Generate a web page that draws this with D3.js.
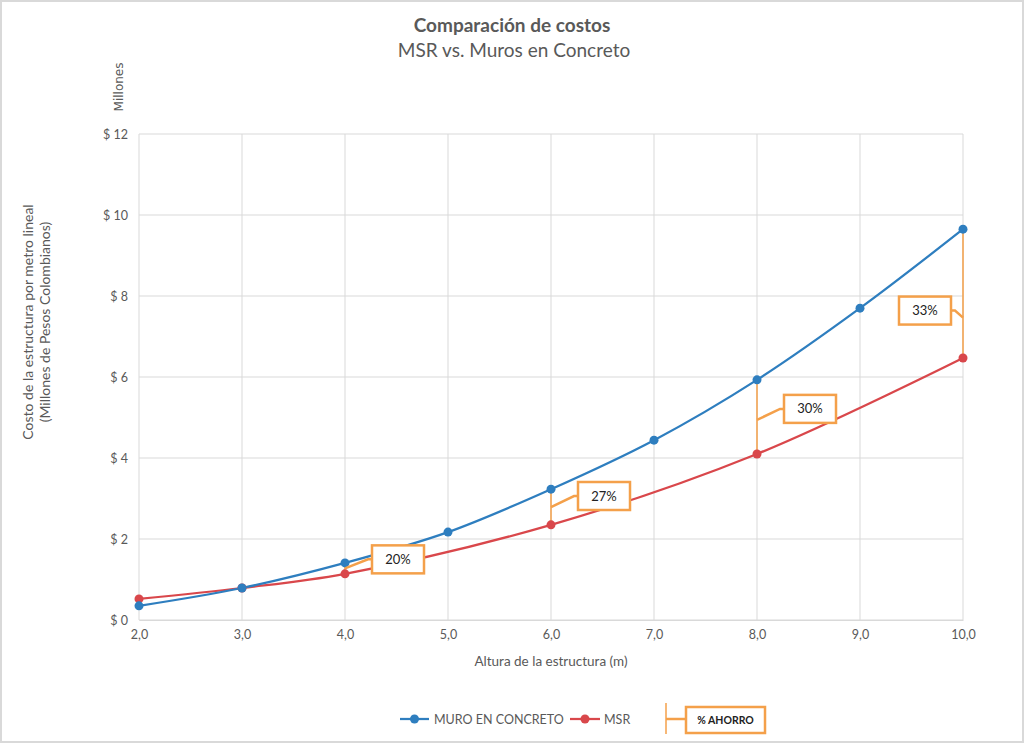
<!DOCTYPE html>
<html><head><meta charset="utf-8">
<script src="https://cdn.jsdelivr.net/npm/d3@7"></script>
<style>body{margin:0;background:#fff}svg{display:block}text{font-family:Lato,"Open Sans",sans-serif}</style>
</head><body>
<svg id="c" width="1024" height="743"></svg>
<script>
const alturas = [2,3,4,5,6,7,8,9,10];
const muroConcreto = [0.35,0.79,1.41,2.17,3.23,4.44,5.93,7.70,9.65];
const msrAlturas = [2,3,4,6,8,10];
const msr = [0.52,0.79,1.14,2.35,4.10,6.47];
const xTicks = [2,3,4,5,6,7,8,9,10];
const yTicks = [0,2,4,6,8,10,12];
const ahorroAlturas = [4,6,8,10];
const ahorroLabels = ["20%","27%","30%","33%"];

const svg = d3.select("#c");
const W=1024,H=743;
svg.append("rect").attr("x",0.5).attr("y",0.5).attr("width",W-1).attr("height",H-1).attr("fill","#fff").attr("stroke","#d9d9d9").attr("stroke-width",3);

const x = d3.scaleLinear().domain([2,10]).range([139,963]);
const y = d3.scaleLinear().domain([0,12]).range([620,134]);
const gray="#595959";

// callout layout (pixel offsets, layout only)
const ahorroLayout = [
  {dx:53, dy:-9,  sy:0},
  {dx:53, dy:-11, sy:0},
  {dx:53, dy:-8,  sy:3},
  {dx:-38,dy:17,  sy:24}
];

// grid
const g = svg.append("g");
g.selectAll(".hg").data(yTicks).join("line").attr("x1",x(2)).attr("x2",x(10)).attr("y1",d=>y(d)).attr("y2",d=>y(d)).attr("stroke","#d9d9d9").attr("stroke-width",1);
g.selectAll(".vg").data(xTicks).join("line").attr("y1",y(0)).attr("y2",y(12)).attr("x1",d=>x(d)).attr("x2",d=>x(d)).attr("stroke","#d9d9d9").attr("stroke-width",1);

// axes
const xa = svg.append("g").attr("transform",`translate(0,${y(0)})`).call(d3.axisBottom(x).tickValues(xTicks).tickSize(0).tickPadding(10).tickFormat(d=>d3.format(".1f")(d).replace(".",",")));
xa.select(".domain").attr("stroke","#d9d9d9");
xa.selectAll("text").attr("fill",gray).attr("font-size",12.5).style("font-family","Lato");
const ya = svg.append("g").attr("transform",`translate(${x(2)},0)`).call(d3.axisLeft(y).tickValues(yTicks).tickSize(0).tickPadding(11).tickFormat(d=>"$ "+d));
ya.select(".domain").remove();
ya.selectAll("text").attr("fill",gray).attr("font-size",12.5).style("font-family","Lato");

// titles
svg.append("text").attr("x",512).attr("y",32).attr("text-anchor","middle").attr("font-size",19).attr("font-weight","bold").attr("fill",gray).text("Comparación de costos");
svg.append("text").attr("x",514).attr("y",57).attr("text-anchor","middle").attr("font-size",19).attr("fill",gray).text("MSR vs. Muros en Concreto");
svg.append("text").attr("transform","translate(123,87) rotate(-90)").attr("text-anchor","middle").attr("font-size",12).attr("fill",gray).style("font-family","DejaVu Sans").text("Millones");
svg.append("text").attr("transform","translate(33,322) rotate(-90)").attr("text-anchor","middle").attr("font-size",14).attr("fill",gray).text("Costo de la estructura por metro lineal");
svg.append("text").attr("transform","translate(50,322) rotate(-90)").attr("text-anchor","middle").attr("font-size",14).attr("fill",gray).text("(Millones de Pesos Colombianos)");
svg.append("text").attr("x",551).attr("y",666).attr("text-anchor","middle").attr("font-size",13.5).attr("fill",gray).text("Altura de la estructura (m)");

const blue="#2E7EBF", red="#D9474B", orange="#F4A04A";
const line = d3.line().x(d=>x(d[0])).y(d=>y(d[1])).curve(d3.curveCatmullRom.alpha(0.5));
const sBlue = alturas.map((a,i)=>[a,muroConcreto[i]]);
const sRed = msrAlturas.map((a,i)=>[a,msr[i]]);

// brackets behind lines
const ann = svg.append("g");
ahorroAlturas.forEach((a,i)=>{
  const yb = y(muroConcreto[alturas.indexOf(a)]), yr = y(msr[msrAlturas.indexOf(a)]);
  ann.append("line").attr("x1",x(a)).attr("x2",x(a)).attr("y1",yb).attr("y2",yr).attr("stroke",orange).attr("stroke-width",1.5);
});

svg.append("path").attr("d",line(sRed)).attr("fill","none").attr("stroke",red).attr("stroke-width",2.25);
svg.append("path").attr("d",line(sBlue)).attr("fill","none").attr("stroke",blue).attr("stroke-width",2.25);
svg.selectAll(".pr").data(sRed).join("circle").attr("cx",d=>x(d[0])).attr("cy",d=>y(d[1])).attr("r",4.5).attr("fill",red);
svg.selectAll(".pb").data(sBlue).join("circle").attr("cx",d=>x(d[0])).attr("cy",d=>y(d[1])).attr("r",4.5).attr("fill",blue);

// callouts
ahorroAlturas.forEach((a,i)=>{
  const yb = y(muroConcreto[alturas.indexOf(a)]), yr = y(msr[msrAlturas.indexOf(a)]);
  const xp = x(a), ym=(yb+yr)/2;
  const o = ahorroLayout[i];
  const cx = xp+o.dx, cy = ym+o.dy, sy = ym+o.sy;
  const bw=52,bh=28;
  const right = o.dx>0;
  const edgeX = right? cx-bw/2 : cx+bw/2;
  svg.append("polyline").attr("points",`${xp},${sy} ${edgeX+(right?-4:4)},${cy} ${edgeX},${cy}`).attr("fill","none").attr("stroke",orange).attr("stroke-width",2.5);
  svg.append("rect").attr("x",cx-bw/2).attr("y",cy-bh/2).attr("width",bw).attr("height",bh).attr("fill","#fff").attr("stroke",orange).attr("stroke-width",2.5);
  svg.append("text").attr("x",cx).attr("y",cy+4.5).attr("text-anchor","middle").attr("font-size",13).attr("fill","#222").text(ahorroLabels[i]);
});

// legend
const lg = svg.append("g");
lg.append("line").attr("x1",400).attr("x2",429).attr("y1",719).attr("y2",719).attr("stroke",blue).attr("stroke-width",2.25);
lg.append("circle").attr("cx",414.5).attr("cy",719).attr("r",4.5).attr("fill",blue);
lg.append("text").attr("x",434).attr("y",723.5).attr("font-size",12.5).attr("fill",gray).text("MURO EN CONCRETO");
lg.append("line").attr("x1",570).attr("x2",600).attr("y1",719).attr("y2",719).attr("stroke",red).attr("stroke-width",2.25);
lg.append("circle").attr("cx",585).attr("cy",719).attr("r",4.5).attr("fill",red);
lg.append("text").attr("x",604).attr("y",723.5).attr("font-size",12.5).attr("fill",gray).text("MSR");
lg.append("line").attr("x1",666).attr("x2",666).attr("y1",703).attr("y2",734).attr("stroke",orange).attr("stroke-width",1.5);
lg.append("line").attr("x1",666).attr("x2",686).attr("y1",719).attr("y2",719).attr("stroke",orange).attr("stroke-width",2.5);
lg.append("rect").attr("x",686).attr("y",707).attr("width",79).attr("height",26).attr("fill","#fff").attr("stroke",orange).attr("stroke-width",2.5);
lg.append("text").attr("x",725.5).attr("y",724).attr("text-anchor","middle").attr("font-size",10.5).attr("font-weight","bold").attr("fill","#222").text("% AHORRO");
</script>
</body></html>
